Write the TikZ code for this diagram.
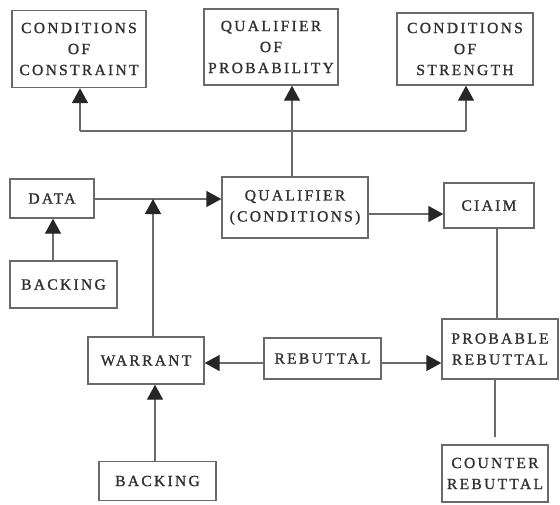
\documentclass[tikz,border=0pt]{standalone}
\usepackage{fontspec}
\setmainfont{Liberation Serif}
\newfontfamily\boxfont[LetterSpace=15,FakeBold=1.2]{Liberation Serif}
\usetikzlibrary{arrows.meta}
\definecolor{linegray}{HTML}{6A6A6A}
\definecolor{textgray}{HTML}{303030}
\tikzset{
  box/.style={draw=linegray, line width=1.4pt, rectangle, inner sep=0pt, align=center,
    text=textgray, font=\boxfont\fontsize{15.5}{21}\selectfont},
  conn/.style={draw=linegray, line width=1.4pt},
  arr/.style={conn, -{Triangle[length=15pt,width=16pt,color=black!85]}},
}
\begin{document}
\begin{tikzpicture}[x=1pt,y=-1pt]
\useasboundingbox (0,0) rectangle (560,504);
% top row
\node[box, minimum width=134pt, minimum height=77pt] (cc) at (79,49) {CONDITIONS\\OF\\CONSTRAINT};
\node[box, minimum width=134pt, minimum height=76pt] (qp) at (271,47) {QUALIFIER\\OF\\PROBABILITY};
\node[box, minimum width=136pt, minimum height=72pt] (cs) at (465,49) {CONDITIONS\\OF\\STRENGTH};
% middle row
\node[box, minimum width=84pt, minimum height=39pt] (data) at (52,198.5) {DATA};
\node[box, minimum width=107pt, minimum height=47pt] (back1) at (63.5,284.5) {BACKING};
\node[box, minimum width=146pt, minimum height=61pt] (qc) at (295,207.5) {QUALIFIER\\(CONDITIONS)};
\node[box, minimum width=90pt, minimum height=45pt] (claim) at (489,205.5) {CIAIM};
% lower
\node[box, minimum width=116pt, minimum height=47pt] (warrant) at (146,360.5) {WARRANT};
\node[box, minimum width=117pt, minimum height=41pt] (reb) at (322.5,358.5) {REBUTTAL};
\node[box, minimum width=116pt, minimum height=60pt] (prob) at (500,349) {PROBABLE\\REBUTTAL};
\node[box, minimum width=106pt, minimum height=57pt] (counter) at (495,473.5) {COUNTER\\REBUTTAL};
\node[box, minimum width=117pt, minimum height=39pt] (back2) at (157.5,481) {BACKING};
% coordinates
\coordinate (j) at (153,199);
\coordinate (hl) at (80,131);
\coordinate (hr) at (466,131);
\coordinate (hm) at (292,131);
\coordinate (cend) at (495,437);
% connectors
\draw[arr] (data.east |- j) -- (qc.west |- j);
\draw[arr] (warrant.north -| j) -- (j);
\draw[arr] (back1.north -| 53,0) -- (data.south -| 53,0);
\draw[arr] (qc.north -| hm) -- (qp.south -| hm);
\draw[conn] (hl) -- (hr);
\draw[arr] (hl) -- (cc.south -| hl);
\draw[arr] (hr) -- (cs.south -| hr);
\draw[arr] (qc.east |- 0,214) -- (claim.west |- 0,214);
\draw[conn] (claim.south -| 497,0) -- (prob.north -| 497,0);
\draw[arr] (reb.west |- 0,363) -- (warrant.east |- 0,363);
\draw[arr] (reb.east |- 0,363) -- (prob.west |- 0,363);
\draw[conn] (prob.south -| cend) -- (cend);
\draw[arr] (back2.north -| 155,0) -- (warrant.south -| 155,0);
\end{tikzpicture}
\end{document}
